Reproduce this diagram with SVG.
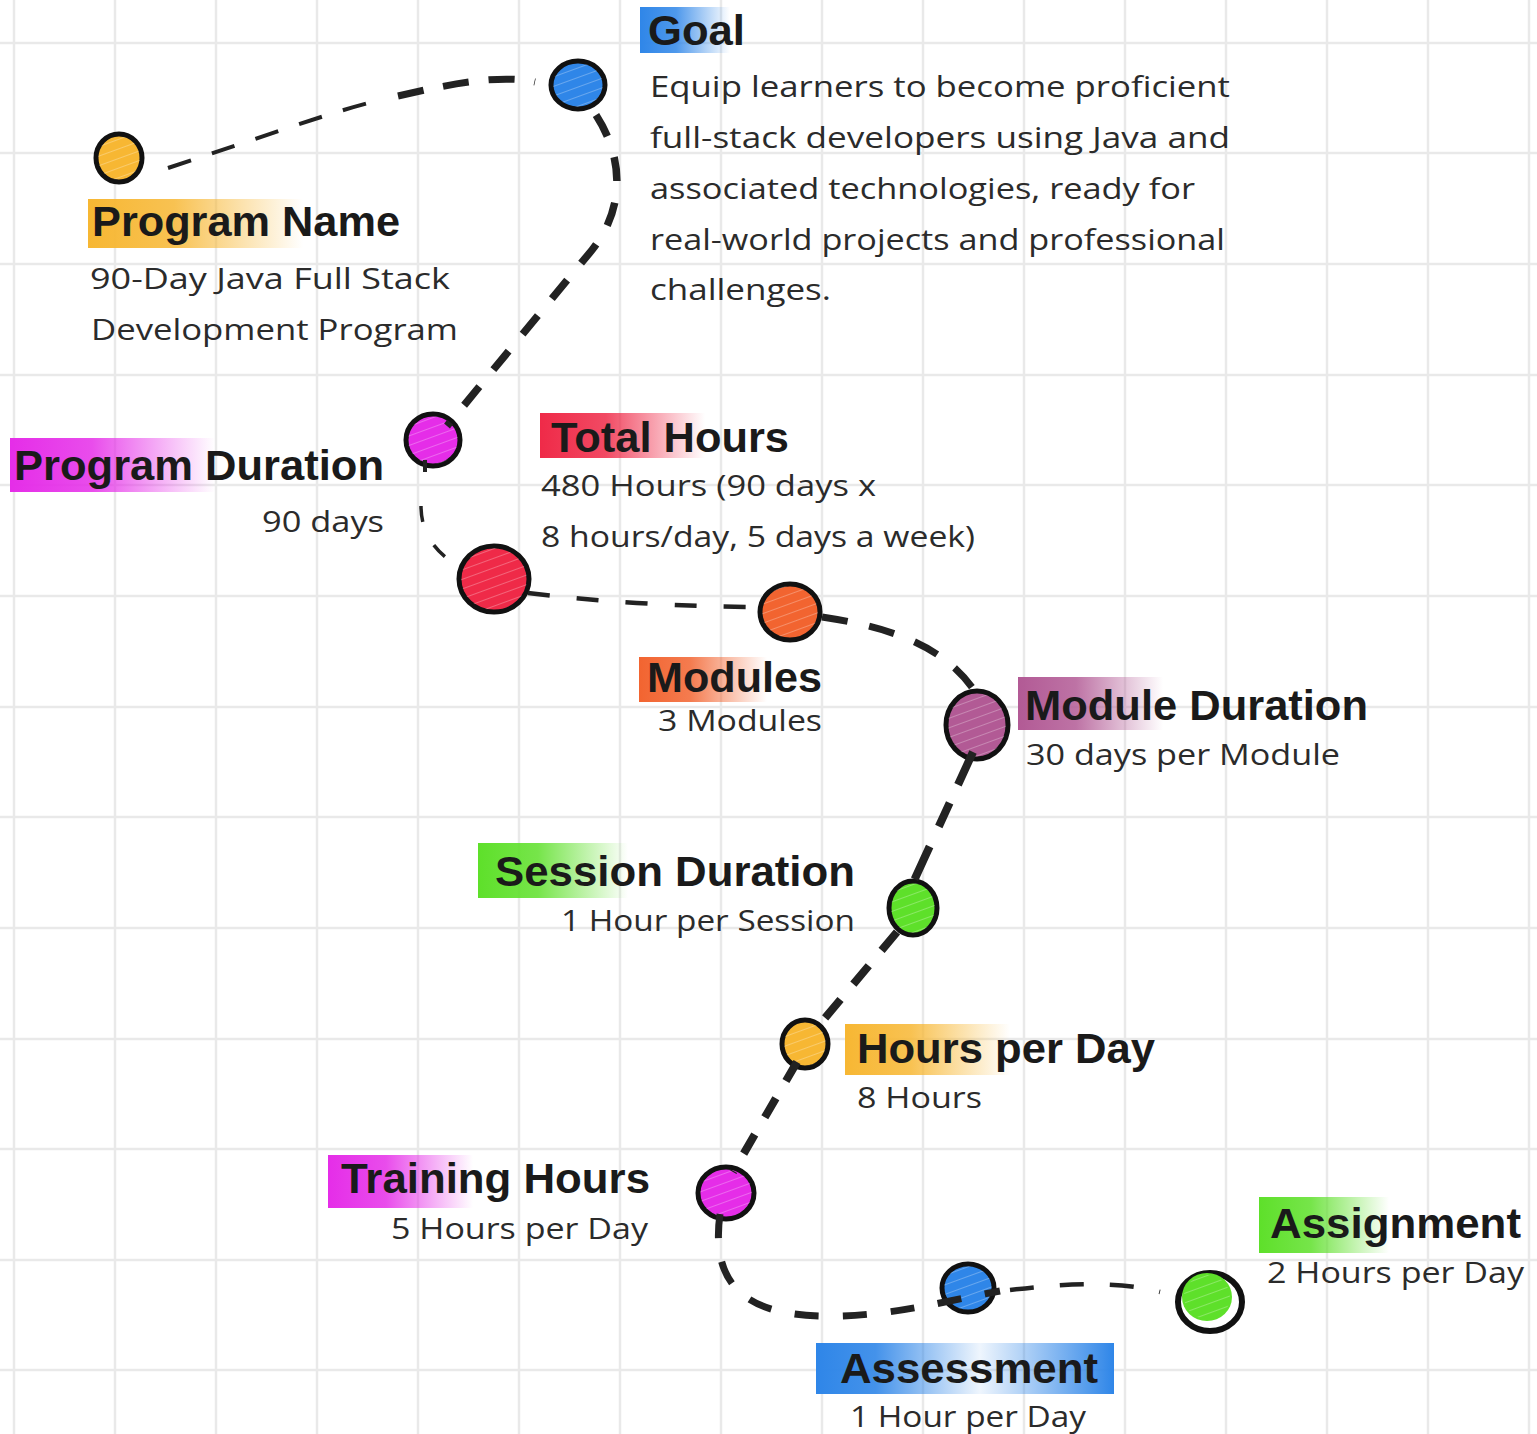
<svg xmlns="http://www.w3.org/2000/svg" width="1537" height="1434" viewBox="0 0 1537 1434">
<style>
.h{font-family:"Liberation Sans",Arial,sans-serif;font-weight:bold;font-size:42px;fill:#1a1a1a}
.b{font-family:"Open Sans","Noto Sans",sans-serif;font-size:30px;fill:#2b2b2b}
.grid line{stroke:#e9e9e9;stroke-width:2.5}
.c{fill:none;stroke:#222;stroke-linecap:butt}
.dot{stroke:#111;stroke-width:5}
.hatch{fill:url(#hatch);stroke:none}
</style>
<defs>
<pattern id="hatch" width="9" height="9" patternUnits="userSpaceOnUse" patternTransform="rotate(70)">
<line x1="0" y1="0" x2="0" y2="9" stroke="#ffffff" stroke-width="1.6" stroke-opacity="0.35"/>
</pattern>
<linearGradient id="gY"><stop offset="0" stop-color="#f7b733"/><stop offset="0.4" stop-color="#f7b733" stop-opacity="0.85"/><stop offset="1" stop-color="#f7b733" stop-opacity="0"/></linearGradient>
<linearGradient id="gB"><stop offset="0" stop-color="#2f86e8"/><stop offset="0.4" stop-color="#2f86e8" stop-opacity="0.85"/><stop offset="1" stop-color="#2f86e8" stop-opacity="0"/></linearGradient>
<linearGradient id="gM"><stop offset="0" stop-color="#e52de8"/><stop offset="0.4" stop-color="#e52de8" stop-opacity="0.85"/><stop offset="1" stop-color="#e52de8" stop-opacity="0"/></linearGradient>
<linearGradient id="gR"><stop offset="0" stop-color="#ef2a48"/><stop offset="0.4" stop-color="#ef2a48" stop-opacity="0.85"/><stop offset="1" stop-color="#ef2a48" stop-opacity="0"/></linearGradient>
<linearGradient id="gO"><stop offset="0" stop-color="#f26430"/><stop offset="0.4" stop-color="#f26430" stop-opacity="0.85"/><stop offset="1" stop-color="#f26430" stop-opacity="0"/></linearGradient>
<linearGradient id="gP"><stop offset="0" stop-color="#b25a95"/><stop offset="0.4" stop-color="#b25a95" stop-opacity="0.85"/><stop offset="1" stop-color="#b25a95" stop-opacity="0"/></linearGradient>
<linearGradient id="gG"><stop offset="0" stop-color="#5ee02a"/><stop offset="0.4" stop-color="#5ee02a" stop-opacity="0.85"/><stop offset="1" stop-color="#5ee02a" stop-opacity="0"/></linearGradient>
<linearGradient id="gBB"><stop offset="0" stop-color="#2f86e8"/><stop offset="0.2" stop-color="#2f86e8" stop-opacity="0.9"/><stop offset="0.55" stop-color="#2f86e8" stop-opacity="0.08"/><stop offset="1" stop-color="#2f86e8"/></linearGradient>
</defs>
<rect width="1537" height="1434" fill="#ffffff"/>
<g class="grid">
<line x1="14" y1="0" x2="14" y2="1434"/><line x1="115" y1="0" x2="115" y2="1434"/><line x1="216" y1="0" x2="216" y2="1434"/><line x1="317" y1="0" x2="317" y2="1434"/><line x1="418" y1="0" x2="418" y2="1434"/><line x1="519" y1="0" x2="519" y2="1434"/><line x1="620" y1="0" x2="620" y2="1434"/><line x1="721" y1="0" x2="721" y2="1434"/><line x1="822" y1="0" x2="822" y2="1434"/><line x1="923" y1="0" x2="923" y2="1434"/><line x1="1024" y1="0" x2="1024" y2="1434"/><line x1="1125" y1="0" x2="1125" y2="1434"/><line x1="1226" y1="0" x2="1226" y2="1434"/><line x1="1327" y1="0" x2="1327" y2="1434"/><line x1="1428" y1="0" x2="1428" y2="1434"/><line x1="1529" y1="0" x2="1529" y2="1434"/>
<line x1="0" y1="43" x2="1537" y2="43"/><line x1="0" y1="153" x2="1537" y2="153"/><line x1="0" y1="264" x2="1537" y2="264"/><line x1="0" y1="375" x2="1537" y2="375"/><line x1="0" y1="485" x2="1537" y2="485"/><line x1="0" y1="596" x2="1537" y2="596"/><line x1="0" y1="707" x2="1537" y2="707"/><line x1="0" y1="817" x2="1537" y2="817"/><line x1="0" y1="928" x2="1537" y2="928"/><line x1="0" y1="1039" x2="1537" y2="1039"/><line x1="0" y1="1149" x2="1537" y2="1149"/><line x1="0" y1="1260" x2="1537" y2="1260"/><line x1="0" y1="1370" x2="1537" y2="1370"/>
</g>
<g id="n-program-name">
<ellipse cx="119" cy="158" rx="23" ry="24" fill="#f7b733" class="dot"/>
<ellipse cx="119" cy="158" rx="21" ry="22" class="hatch"/>
<rect x="88" y="199" width="215" height="49" fill="url(#gY)"/>
<text class="h" x="92" y="236" textLength="308" lengthAdjust="spacingAndGlyphs">Program Name</text>
<text class="b" x="90" y="289" textLength="360" lengthAdjust="spacingAndGlyphs">90-Day Java Full Stack</text>
<text class="b" x="91" y="340" textLength="367" lengthAdjust="spacingAndGlyphs">Development Program</text>
</g>
<g id="n-goal">
<ellipse cx="578" cy="85" rx="27" ry="24" fill="#2f86e8" class="dot"/>
<ellipse cx="578" cy="85" rx="25" ry="22" class="hatch"/>
<rect x="640" y="7" width="90" height="46" fill="url(#gB)"/>
<text class="h" x="648" y="45" textLength="97" lengthAdjust="spacingAndGlyphs">Goal</text>
<text class="b" x="650" y="97" textLength="580" lengthAdjust="spacingAndGlyphs">Equip learners to become proficient</text>
<text class="b" x="650" y="148" textLength="580" lengthAdjust="spacingAndGlyphs">full-stack developers using Java and</text>
<text class="b" x="650" y="199" textLength="545" lengthAdjust="spacingAndGlyphs">associated technologies, ready for</text>
<text class="b" x="650" y="250" textLength="575" lengthAdjust="spacingAndGlyphs">real-world projects and professional</text>
<text class="b" x="650" y="300" textLength="181" lengthAdjust="spacingAndGlyphs">challenges.</text>
</g>
<g id="n-program-duration">
<ellipse cx="433" cy="440" rx="27" ry="26" fill="#e52de8" class="dot"/>
<ellipse cx="433" cy="440" rx="25" ry="24" class="hatch"/>
<rect x="10" y="438" width="205" height="54" fill="url(#gM)"/>
<text class="h" x="14" y="480" textLength="370" lengthAdjust="spacingAndGlyphs">Program Duration</text>
<text class="b" x="262" y="532" textLength="122" lengthAdjust="spacingAndGlyphs">90 days</text>
</g>
<g id="n-total-hours">
<ellipse cx="494" cy="579" rx="35" ry="33" fill="#ef2a48" class="dot"/>
<ellipse cx="494" cy="579" rx="33" ry="31" class="hatch"/>
<rect x="540" y="413" width="165" height="45" fill="url(#gR)"/>
<text class="h" x="551" y="452" textLength="238" lengthAdjust="spacingAndGlyphs">Total Hours</text>
<text class="b" x="541" y="496" textLength="335" lengthAdjust="spacingAndGlyphs">480 Hours (90 days x</text>
<text class="b" x="541" y="547" textLength="434" lengthAdjust="spacingAndGlyphs">8 hours/day, 5 days a week)</text>
</g>
<g id="n-modules">
<ellipse cx="790" cy="612" rx="30" ry="28" fill="#f26430" class="dot"/>
<ellipse cx="790" cy="612" rx="28" ry="26" class="hatch"/>
<rect x="639" y="657" width="128" height="45" fill="url(#gO)"/>
<text class="h" x="647" y="692" textLength="175" lengthAdjust="spacingAndGlyphs">Modules</text>
<text class="b" x="658" y="731" textLength="164" lengthAdjust="spacingAndGlyphs">3 Modules</text>
</g>
<g id="n-module-duration">
<ellipse cx="977" cy="725" rx="31" ry="34" fill="#b25a95" class="dot"/>
<ellipse cx="977" cy="725" rx="29" ry="32" class="hatch"/>
<rect x="1018" y="677" width="145" height="53" fill="url(#gP)"/>
<text class="h" x="1025" y="720" textLength="343" lengthAdjust="spacingAndGlyphs">Module Duration</text>
<text class="b" x="1026" y="765" textLength="314" lengthAdjust="spacingAndGlyphs">30 days per Module</text>
</g>
<g id="n-session-duration">
<ellipse cx="913" cy="908" rx="24" ry="27" fill="#5ee02a" class="dot"/>
<ellipse cx="913" cy="908" rx="22" ry="25" class="hatch"/>
<rect x="478" y="843" width="150" height="55" fill="url(#gG)"/>
<text class="h" x="495" y="886" textLength="360" lengthAdjust="spacingAndGlyphs">Session Duration</text>
<text class="b" x="561" y="931" textLength="294" lengthAdjust="spacingAndGlyphs">1 Hour per Session</text>
</g>
<g id="n-hours-per-day">
<ellipse cx="805" cy="1044" rx="23" ry="24" fill="#f7b733" class="dot"/>
<ellipse cx="805" cy="1044" rx="21" ry="22" class="hatch"/>
<rect x="845" y="1024" width="165" height="51" fill="url(#gY)"/>
<text class="h" x="857" y="1063" textLength="298" lengthAdjust="spacingAndGlyphs">Hours per Day</text>
<text class="b" x="857" y="1108" textLength="125" lengthAdjust="spacingAndGlyphs">8 Hours</text>
</g>
<g id="n-training-hours">
<ellipse cx="726" cy="1193" rx="28" ry="26" fill="#e52de8" class="dot"/>
<ellipse cx="726" cy="1193" rx="26" ry="24" class="hatch"/>
<rect x="328" y="1155" width="145" height="53" fill="url(#gM)"/>
<text class="h" x="341" y="1193" textLength="309" lengthAdjust="spacingAndGlyphs">Training Hours</text>
<text class="b" x="391" y="1239" textLength="257" lengthAdjust="spacingAndGlyphs">5 Hours per Day</text>
</g>
<g id="n-assessment">
<ellipse cx="968" cy="1288" rx="26" ry="24" fill="#2f86e8" class="dot"/>
<ellipse cx="968" cy="1288" rx="24" ry="22" class="hatch"/>
<rect x="816" y="1343" width="298" height="51" fill="url(#gBB)"/>
<text class="h" x="840" y="1383" textLength="258" lengthAdjust="spacingAndGlyphs">Assessment</text>
<text class="b" x="850" y="1427" textLength="236" lengthAdjust="spacingAndGlyphs">1 Hour per Day</text>
</g>
<g id="n-assignment">
<ellipse cx="1210" cy="1302" rx="32" ry="29" fill="#ffffff" stroke="#111" stroke-width="6"/>
<ellipse cx="1207" cy="1297" rx="25" ry="24" fill="#5ee02a"/>
<ellipse cx="1207" cy="1297" rx="23" ry="22" class="hatch"/>
<rect x="1259" y="1197" width="130" height="56" fill="url(#gG)"/>
<text class="h" x="1270" y="1238" textLength="251" lengthAdjust="spacingAndGlyphs">Assignment</text>
<text class="b" x="1267" y="1283" textLength="257" lengthAdjust="spacingAndGlyphs">2 Hours per Day</text>
</g>
<g id="connectors">
<path class="c" d="M168,168 C 260,138 330,112 380,100" stroke-width="4" stroke-dasharray="24 22"/>
<path class="c" d="M398,96 C 450,84 500,74 535,82" stroke-width="7" stroke-dasharray="26 20"/>
<path class="c" d="M596,115 C 625,160 624,210 592,250 L 447,426" stroke-width="7.5" stroke-dasharray="24 22"/>
<path class="c" d="M425,460 L 425,472" stroke-width="4"/>
<path class="c" d="M421,506 C 421,530 432,552 462,568" stroke-width="3.5" stroke-dasharray="16 26"/>
<path class="c" d="M528,593 C 600,602 690,607 760,607" stroke-width="4.5" stroke-dasharray="22 27"/>
<path class="c" d="M822,617 C 880,626 948,642 980,700" stroke-width="7" stroke-dasharray="26 22"/>
<path class="c" d="M973,752 L 912,885" stroke-width="8" stroke-dasharray="36 20 26 22"/>
<path class="c" d="M897,932 L 820,1024" stroke-width="8" stroke-dasharray="24 20"/>
<path class="c" d="M797,1062 L 733,1172" stroke-width="8" stroke-dasharray="22 20"/>
<path class="c" d="M720,1214 C 708,1300 765,1318 840,1316 C 900,1314 940,1302 1000,1291" stroke-width="7" stroke-dasharray="24 24"/>
<path class="c" d="M1010,1290 C 1060,1284 1115,1280 1160,1292" stroke-width="4.5" stroke-dasharray="24 26"/>
</g>
</svg>
